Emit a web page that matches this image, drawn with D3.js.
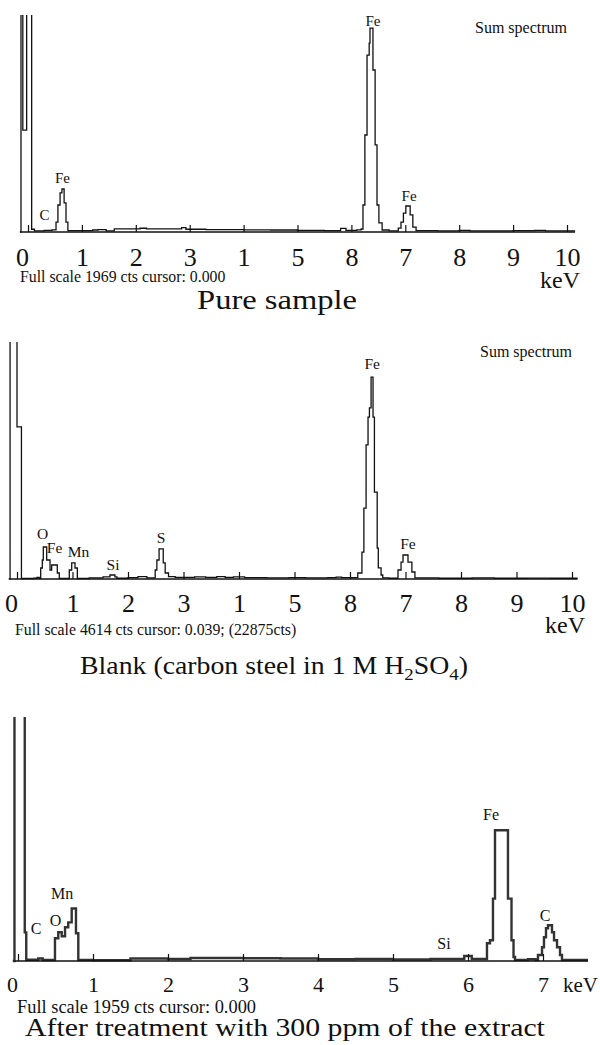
<!DOCTYPE html>
<html>
<head>
<meta charset="utf-8">
<script src="https://cdn.jsdelivr.net/npm/d3@7"></script>
<style>
  body { margin: 0; background: #fff; }
  svg { display: block; }
  text { font-family: "Liberation Serif", "Times New Roman", serif; fill: #111; }
</style>
</head>
<body>
<svg id="chart" width="600" height="1045"></svg>
<script>
// EDS spectra, [energy keV, counts], drawn as steps
const pureSpectrum = [
  [-0.15, 0], [-0.13, 5000], [-0.096, 925], [-0.025, 5000], [0.068, 25], [0.12, 10], [0.3, 14],
  [0.445, 20], [0.52, 90], [0.555, 245], [0.595, 355], [0.63, 390], [0.67, 265], [0.705, 90], [0.74, 12],
  [1.2, 18], [1.3, 22], [1.45, 10], [1.6, 28], [2.08, 34], [2.2, 28], [2.85, 40], [2.93, 25],
  [3.3, 22], [4.0, 20], [4.5, 18], [5.0, 15], [5.5, 12], [5.8, 32], [5.9, 15], [6.1, 20],
  [6.18, 27], [6.215, 245], [6.25, 880], [6.29, 1605], [6.33, 1714], [6.345, 1850], [6.40, 1470],
  [6.44, 790], [6.475, 245], [6.51, 82], [6.57, 18], [6.7, 10],
  [6.87, 36], [6.92, 90], [6.965, 172], [7.01, 236], [7.09, 155], [7.14, 45], [7.2, 12],
  [7.6, 10], [8.0, 15], [8.2, 10], [9.0, 12], [9.4, 15], [9.6, 10], [10.15, 10]
];
const blankSpectrum = [
  [-0.15, 0], [-0.125, 12000], [0.0, 2960], [0.08, 10], [0.3, 15], [0.36, 30], [0.4, 15],
  [0.427, 214], [0.456, 370], [0.474, 623], [0.535, 370], [0.595, 175], [0.625, 273], [0.726, 117], [0.762, 10],
  [0.942, 175], [0.986, 312], [1.045, 214], [1.087, 10], [1.3, 20],
  [1.55, 40], [1.675, 78], [1.765, 40], [1.8, 15], [2.0, 25], [2.18, 45], [2.34, 20],
  [2.49, 175], [2.52, 370], [2.56, 585], [2.635, 312], [2.67, 117], [2.73, 45], [2.85, 30],
  [3.2, 40], [3.4, 30], [3.6, 45], [3.75, 30], [3.9, 40], [4.1, 25], [4.5, 20], [4.9, 25],
  [5.2, 20], [5.6, 25], [5.75, 35], [5.85, 25],
  [6.14, 117], [6.215, 525], [6.25, 1380], [6.29, 2610], [6.325, 3150], [6.35, 3330], [6.38, 3930],
  [6.415, 3150], [6.44, 1690], [6.49, 600], [6.51, 215], [6.56, 78], [6.59, 20], [6.7, 15],
  [6.865, 175], [6.92, 330], [6.955, 467], [7.045, 330], [7.115, 136], [7.17, 20],
  [7.6, 15], [8.2, 20], [8.6, 15], [9.2, 18], [9.6, 15], [10.1, 15]
];
const treatedSpectrum = [
  [-0.07, 0], [-0.047, 8000], [0.09, 230], [0.11, 10], [0.27, 20], [0.33, 8],
  [0.493, 183], [0.537, 231], [0.583, 199], [0.627, 271], [0.67, 310], [0.716, 422], [0.773, 223], [0.804, 8],
  [1.0, 6], [1.5, 20], [2.0, 16], [2.3, 24], [3.0, 22], [3.5, 20], [4.0, 14], [4.5, 16],
  [5.0, 12], [5.5, 16], [5.95, 40], [6.05, 16],
  [6.253, 143], [6.293, 167], [6.333, 501], [6.36, 1050], [6.533, 501], [6.58, 167], [6.607, 32], [6.627, 8],
  [6.8, 14], [6.9, 8],
  [6.933, 48], [6.987, 111], [7.013, 191], [7.04, 263], [7.067, 287], [7.12, 231], [7.147, 167],
  [7.187, 111], [7.227, 48], [7.253, 8], [7.6, 8]
];

// tick labels as printed
const pureTicks = ["0", "1", "2", "3", "1", "5", "8", "7", "8", "9", "10"];
const blankTicks = ["0", "1", "2", "3", "1", "5", "8", "7", "8", "9", "10"];
const treatedTicks = ["0", "1", "2", "3", "4", "5", "6", "7"];

// peak labels [element, keV, counts]
const pureLabels = [["C", 0.306, 109], ["Fe", 0.64, 444], ["Fe", 6.40, 1868], ["Fe", 7.07, 281]];
const blankLabels = [["O", 0.46, 779], ["Fe", 0.676, 506], ["Mn", 1.108, 428], ["Si", 1.73, 175],
  ["S", 2.595, 701], ["Fe", 6.40, 4089], ["Fe", 7.045, 584]];
const treatedLabels = [["C", 0.24, 215], ["O", 0.5, 279], ["Mn", 0.587, 494], ["Si", 5.68, 96],
  ["Fe", 6.307, 1130], ["C", 7.027, 318]];

const fullScales = [1969, 4614, 1959];
const footers = ["Full scale 1969 cts cursor: 0.000",
  "Full scale 4614 cts cursor: 0.039; (22875cts)",
  "Full scale 1959 cts cursor: 0.000"];

const svg = d3.select("#chart");

const panels = [
  { id: "p1", data: pureSpectrum, ticks: pureTicks, labels: pureLabels, full: fullScales[0], footer: footers[0],
    xr: [28, 567], maxKeV: 10, top: 15, base: 232, axisFrom: -0.15, axisTo: 10.15,
    tickFont: 26, tickPad: 16, labelFont: 15, line: { color: "#111", w: 1.3 },
    sum: [567, 33], kev: { x: 580, y: 288, anchor: "end", size: 24 },
    foot: { x: 20, y: 282, size: 15.8 } },
  { id: "p2", data: blankSpectrum, ticks: blankTicks, labels: blankLabels, full: fullScales[1], footer: footers[1],
    xr: [17, 572], maxKeV: 10, top: 342, base: 579, axisFrom: -0.13, axisTo: 10.1,
    tickFont: 26, tickPad: 15, labelFont: 15.5, line: { color: "#111", w: 1.3 },
    sum: [572, 357], kev: { x: 585, y: 633, anchor: "end", size: 24 },
    foot: { x: 15, y: 635, size: 15.8 } },
  { id: "p3", data: treatedSpectrum, ticks: treatedTicks, labels: treatedLabels, full: fullScales[2], footer: footers[2],
    xr: [18, 543], maxKeV: 7, top: 717, base: 961, axisFrom: -0.05, axisTo: 7.6,
    tickFont: 22, tickPad: 15, labelFont: 16, line: { color: "#333", w: 2.4 },
    sum: null, kev: { x: 563, y: 992, anchor: "start", size: 21 },
    foot: { x: 17, y: 1013, size: 18.4 } }
];

panels.forEach(draw_panel);

function draw_panel(p) {
  const x = d3.scaleLinear().domain([0, p.maxKeV]).range(p.xr);
  // full scale sits at the clip top
  const y = d3.scaleLinear().domain([0, p.full]).range([p.base, p.top]);

  svg.append("clipPath").attr("id", "clip_" + p.id)
    .append("rect").attr("x", 0).attr("y", p.top).attr("width", 600).attr("height", p.base - p.top + 3);

  const g = svg.append("g");

  const line = d3.line()
    .x(d => x(d[0]))
    .y(d => y(d[1]))
    .curve(d3.curveStepAfter);

  g.append("path")
    .datum(p.data)
    .attr("clip-path", `url(#clip_${p.id})`)
    .attr("fill", "none")
    .attr("stroke", p.line.color)
    .attr("stroke-width", p.line.w)
    .attr("d", line);

  // baseline
  g.append("line")
    .attr("x1", x(p.axisFrom)).attr("x2", x(p.axisTo))
    .attr("y1", p.base).attr("y2", p.base)
    .attr("stroke", "#111").attr("stroke-width", 1.6);

  const axis = d3.axisBottom(x)
    .tickValues(d3.range(p.ticks.length))
    .tickFormat((d, i) => p.ticks[i])
    .tickSize(-7)
    .tickSizeOuter(0)
    .tickPadding(p.tickPad);

  const gx = g.append("g")
    .attr("transform", `translate(0,${p.base})`)
    .call(axis);
  gx.select(".domain").remove();
  gx.attr("font-family", null).attr("font-size", p.tickFont);
  gx.selectAll(".tick line").attr("stroke", "#111").attr("stroke-width", 1.2);
  gx.selectAll(".tick text").attr("fill", "#111").filter((d, i) => i === 0).attr("dx", -6);

  // peak labels
  g.selectAll(".peak")
    .data(p.labels)
    .enter()
    .append("text")
    .attr("class", "peak")
    .attr("x", d => x(d[1]))
    .attr("y", d => y(d[2]))
    .attr("text-anchor", "middle")
    .attr("font-size", p.labelFont)
    .text(d => d[0]);

  if (p.sum) {
    g.append("text")
      .attr("x", p.sum[0]).attr("y", p.sum[1])
      .attr("text-anchor", "end")
      .attr("font-size", 16)
      .text("Sum spectrum");
  }

  g.append("text")
    .attr("x", p.kev.x).attr("y", p.kev.y)
    .attr("text-anchor", p.kev.anchor)
    .attr("font-size", p.kev.size)
    .text("keV");

  g.append("text")
    .attr("x", p.foot.x).attr("y", p.foot.y)
    .attr("font-size", p.foot.size)
    .text(p.footer);
}

// captions, stretched to the printed width
function caption(parts, cx, yb, size, width) {
  const t = svg.append("text")
    .attr("text-anchor", "middle")
    .attr("font-size", size);
  parts.forEach(pt => {
    const s = t.append("tspan").text(pt.t);
    if (pt.sub) s.attr("font-size", size * 0.68).attr("dy", size * 0.22);
    else if (pt.after) s.attr("dy", -size * 0.22);
  });
  const w = t.node().getComputedTextLength();
  t.attr("transform", `translate(${cx},${yb}) scale(${width / w},1)`);
}

caption([{ t: "Pure sample" }], 277, 309, 27, 160);
caption([{ t: "Blank (carbon steel in 1 M H" }, { t: "2", sub: true }, { t: "SO", after: true },
  { t: "4", sub: true }, { t: ")", after: true }], 274, 674, 26, 388);
caption([{ t: "After treatment with 300 ppm of the extract" }], 285, 1036, 26, 520);
</script>
</body>
</html>
